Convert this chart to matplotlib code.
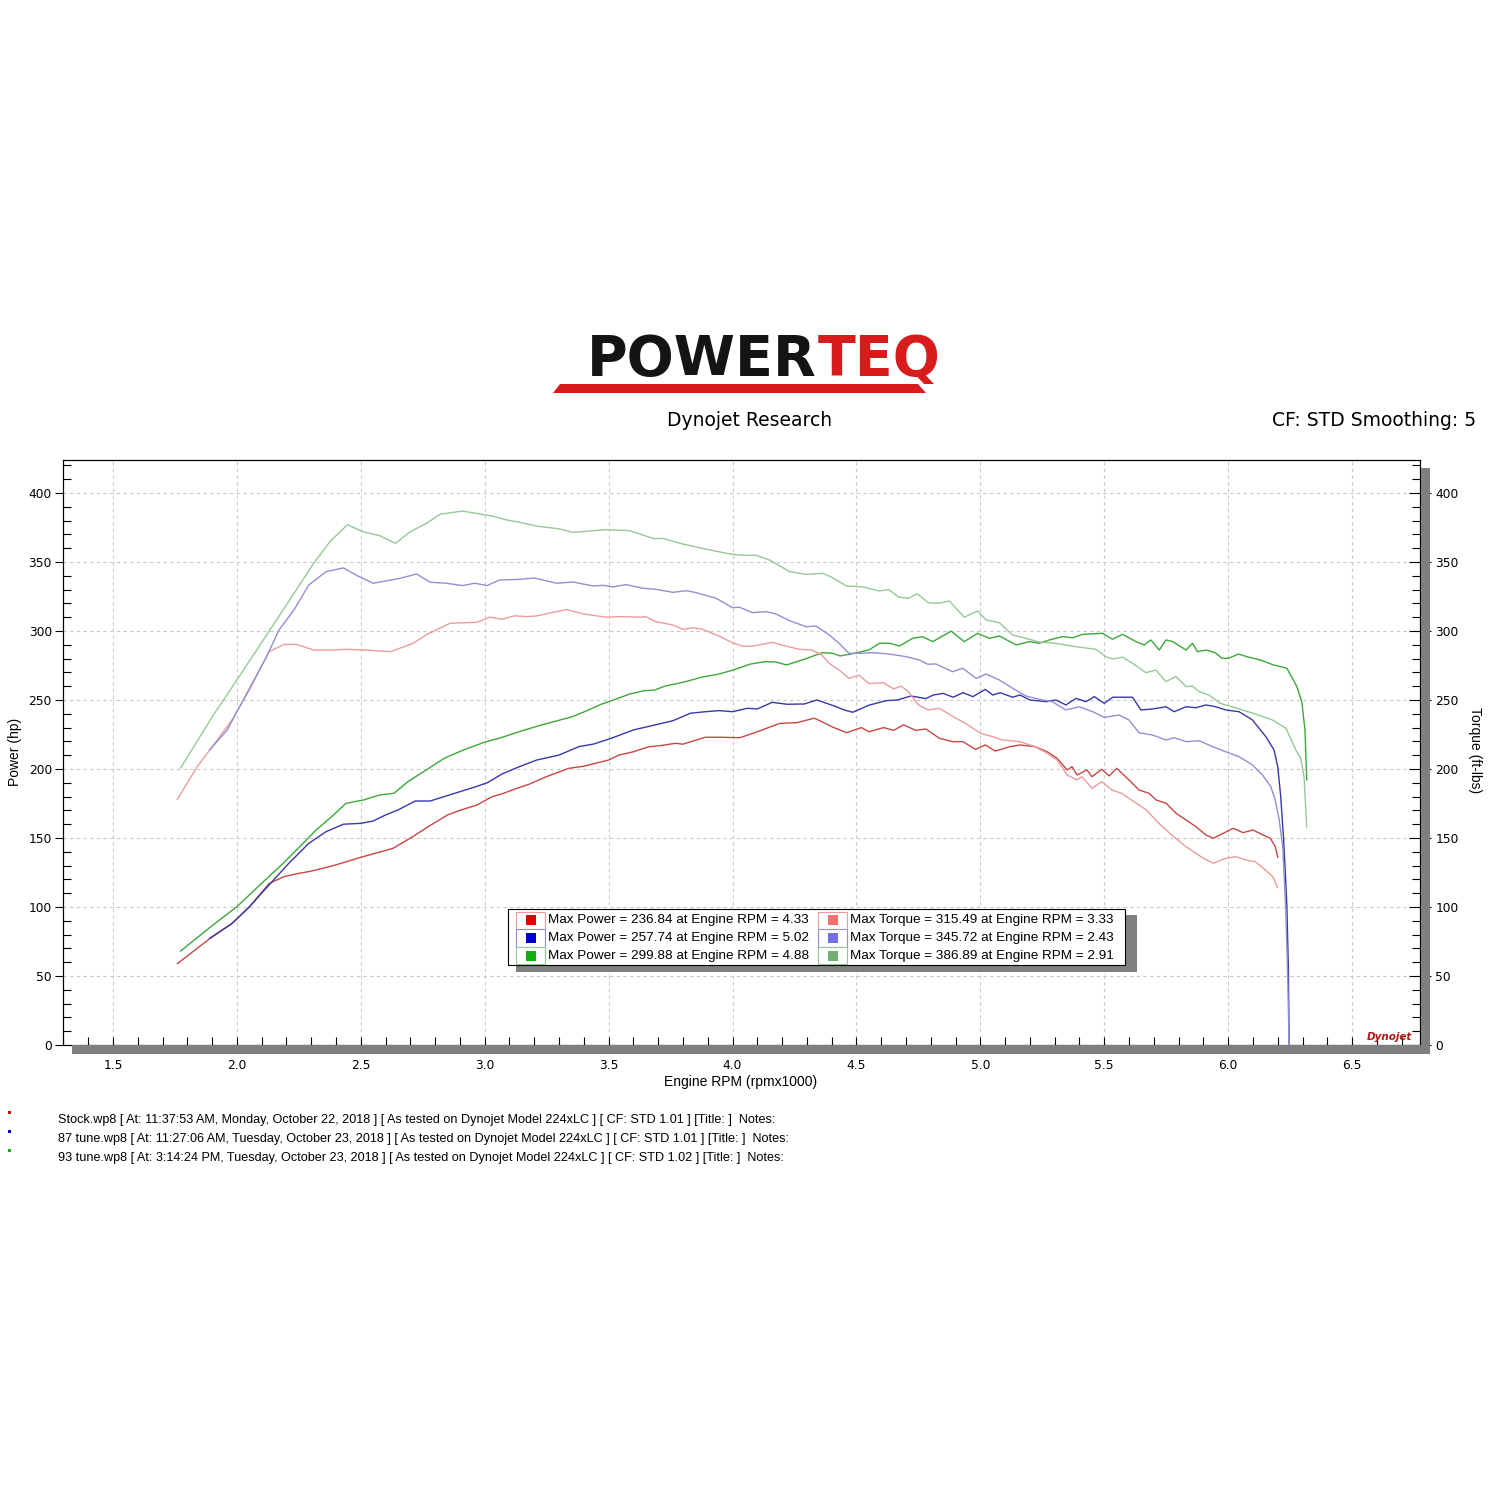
import matplotlib
matplotlib.use("Agg")
import matplotlib.pyplot as plt
from matplotlib import font_manager
from matplotlib.patches import Rectangle, Polygon
from matplotlib.ticker import MultipleLocator, FormatStrFormatter

names = {f.name for f in font_manager.fontManager.ttflist}
narrow = 'Liberation Sans' if 'Liberation Sans' in names else 'DejaVu Sans'
plt.rcParams['font.family'] = ['DejaVu Sans']

# ---- data (rpm x1000, hp / ft-lbs) ----
stock_hp_rpm = [1.76, 1.89, 1.98, 2.05, 2.13, 2.19, 2.24, 2.30, 2.39, 2.50, 2.56, 2.63, 2.71, 2.77,
                2.85, 2.90, 2.97, 3.03, 3.07, 3.13, 3.18, 3.25, 3.34, 3.40, 3.50, 3.54, 3.60, 3.66,
                3.71, 3.77, 3.80, 3.89, 3.95, 4.03, 4.09, 4.19, 4.26, 4.33, 4.36, 4.40, 4.46, 4.52,
                4.55, 4.61, 4.65, 4.69, 4.74, 4.78, 4.835, 4.89, 4.93, 4.98, 5.02, 5.06, 5.12, 5.16,
                5.22, 5.27, 5.31, 5.35, 5.37, 5.39, 5.43, 5.45, 5.49, 5.52, 5.55, 5.60, 5.64, 5.68,
                5.71, 5.75, 5.79, 5.83, 5.87, 5.91, 5.94, 5.98, 6.02, 6.06, 6.10, 6.14, 6.17, 6.19, 6.20]
stock_hp = [59, 77, 88, 100, 117, 122, 124, 126, 130, 136, 139, 142.5, 151, 158,
            166.7, 170, 174, 180, 182, 186, 189, 194.5, 200.5, 202, 206.5, 210, 212.5, 216,
            217, 218.6, 218, 223, 223, 222.7, 226.3, 233, 233.6, 236.8, 234.3, 230.7, 226.3, 230,
            227, 230, 228, 232, 228, 229, 222.2, 219.8, 219.8, 214.2, 217.4, 213, 216.2, 217.4,
            216.2, 212.5, 207.7, 199.3, 201.7, 195.7, 199.3, 194.4, 199.8, 195, 200.5, 192, 184.8, 182.4,
            177.5, 175.1, 167.9, 163, 158.2, 152.2, 149.8, 153.4, 157, 153.9, 155.8, 152.2, 149.8, 143.7, 136]

stock_tq_rpm = [1.76, 1.84, 1.90, 1.98, 2.05, 2.13, 2.19, 2.24, 2.31, 2.39, 2.44, 2.52, 2.62, 2.71,
                2.77, 2.86, 2.97, 3.02, 3.07, 3.12, 3.17, 3.21, 3.27, 3.33, 3.40, 3.49, 3.54, 3.63,
                3.65, 3.69, 3.76, 3.80, 3.84, 3.88, 3.95, 4.00, 4.04, 4.08, 4.16, 4.20, 4.27, 4.32,
                4.36, 4.39, 4.43, 4.47, 4.51, 4.55, 4.61, 4.65, 4.68, 4.71, 4.75, 4.79, 4.835, 4.89,
                4.94, 5.00, 5.05, 5.09, 5.16, 5.22, 5.27, 5.31, 5.35, 5.39, 5.41, 5.45, 5.49, 5.53,
                5.57, 5.61, 5.67, 5.72, 5.78, 5.83, 5.90, 5.94, 5.99, 6.03, 6.07, 6.11, 6.15, 6.18, 6.20]
stock_tq = [178, 201.7, 216, 235.5, 257.2, 285, 290.3, 290.3, 286.2, 286.2, 286.7, 286.2, 285, 291,
            297.8, 305.6, 306.3, 310, 308.5, 311, 310.4, 310.9, 313.3, 315.5, 312.3, 310, 310.4, 310,
            310.4, 306.8, 304.3, 301.2, 302.4, 301.2, 295.9, 291.5, 289, 289, 291.8, 289.8, 286.7, 286.2,
            282.6, 276.6, 271.7, 265.7, 268, 262, 262.5, 258, 260, 256, 246.4, 242.8, 244, 237.9,
            233.1, 225.9, 223.4, 221, 219.8, 216.2, 211.4, 206.5, 195.7, 192, 194.4, 186, 190.8, 184.8,
            182.4, 177.5, 170.3, 160.6, 151, 143.7, 135.3, 131.7, 135.3, 136.5, 134.1, 132.8, 126.8, 122, 114]

t87_hp_rpm = [1.89, 1.98, 2.05, 2.13, 2.21, 2.29, 2.36, 2.43, 2.50, 2.55, 2.60, 2.65, 2.72, 2.78,
              2.865, 2.965, 3.01, 3.07, 3.14, 3.21, 3.30, 3.38, 3.44, 3.51, 3.60, 3.67, 3.76, 3.83,
              3.89, 3.945, 4.00, 4.06, 4.10, 4.16, 4.22, 4.29, 4.34, 4.41, 4.45, 4.485, 4.55, 4.62,
              4.665, 4.72, 4.78, 4.81, 4.85, 4.89, 4.93, 4.97, 5.02, 5.05, 5.08, 5.13, 5.16, 5.20,
              5.265, 5.305, 5.345, 5.386, 5.426, 5.46, 5.50, 5.534, 5.614, 5.648, 5.695, 5.749, 5.782,
              5.83, 5.87, 5.91, 5.95, 5.99, 6.044, 6.098, 6.152, 6.185, 6.20, 6.212, 6.223, 6.232,
              6.237, 6.243, 6.246]
t87_hp = [77.3, 88, 100, 116, 131.7, 146.1, 154.6, 160, 160.6, 162.3, 166.7, 170.3, 176.8, 176.8,
          181.6, 187.2, 190, 196.4, 201.7, 206.5, 210.1, 216.2, 218.1, 222.2, 228.3, 231.2, 235, 240.4,
          241.5, 242.3, 241.5, 244, 243.5, 248.3, 246.9, 247.1, 250, 245.7, 242.8, 241.1, 246.2, 249.5,
          250, 252.9, 251, 253.6, 254.8, 252, 255.3, 252.4, 257.7, 253.6, 255.3, 252, 253.6, 250,
          248.8, 250, 246.4, 251.2, 248.8, 252.4, 247.6, 252, 252, 242.8, 243.5, 245.1, 241.5,
          245.1, 244.4, 246.4, 245.1, 242.8, 241.5, 235.5, 223.4, 213.8, 201.7, 180, 151, 120,
          100, 54, 0]

t87_tq_rpm = [1.89, 1.96, 2.04, 2.12, 2.17, 2.23, 2.29, 2.36, 2.43, 2.48, 2.55, 2.66, 2.725, 2.78,
              2.845, 2.91, 2.96, 3.01, 3.06, 3.14, 3.20, 3.29, 3.356, 3.437, 3.477, 3.517, 3.57, 3.638,
              3.69, 3.76, 3.813, 3.853, 3.934, 4.00, 4.028, 4.08, 4.136, 4.176, 4.23, 4.297, 4.337, 4.39,
              4.43, 4.47, 4.51, 4.566, 4.633, 4.70, 4.754, 4.787, 4.82, 4.888, 4.929, 4.983, 5.023, 5.077,
              5.13, 5.184, 5.238, 5.29, 5.345, 5.40, 5.453, 5.50, 5.56, 5.60, 5.64, 5.695, 5.749, 5.782,
              5.83, 5.883, 5.937, 5.99, 6.044, 6.098, 6.138, 6.172, 6.19, 6.206, 6.22, 6.232, 6.24, 6.246]
t87_tq = [213.8, 228, 254.8, 281.4, 300.7, 315.2, 333.3, 343, 345.7, 340.6, 334.6, 338.2, 341.3, 335.3,
          334.6, 332.9, 334.6, 332.9, 337, 337.4, 338.4, 334.6, 335.5, 332.6, 333.1, 331.9, 333.6, 331,
          330.2, 328, 329.2, 327.8, 323.7, 316.9, 317.2, 313.3, 314, 312.3, 307.5, 303.1, 303.6, 297.1,
          291.1, 283.8, 283.8, 284.3, 283.3, 281.4, 279, 275.9, 276.1, 270.5, 273, 265.7, 268.8, 264.5,
          258.5, 252.9, 250.5, 248.8, 242.8, 245.1, 241.5, 237.4, 239.1, 235.5, 226.3, 224.6, 221, 222.7,
          219.8, 220.5, 216.2, 212.5, 208.9, 202.9, 195.7, 187.2, 177.5, 163, 143.7, 100, 50, 0]

t93_hp_rpm = [1.773, 1.904, 2.00, 2.093, 2.187, 2.267, 2.32, 2.39, 2.44, 2.51, 2.577, 2.634, 2.69, 2.764,
              2.836, 2.908, 2.994, 3.066, 3.153, 3.225, 3.354, 3.412, 3.47, 3.527, 3.585, 3.642, 3.685,
              3.728, 3.80, 3.873, 3.945, 4.002, 4.074, 4.132, 4.175, 4.218, 4.29, 4.362, 4.405, 4.434,
              4.49, 4.55, 4.593, 4.636, 4.673, 4.727, 4.767, 4.808, 4.882, 4.935, 4.989, 5.036, 5.077,
              5.144, 5.198, 5.238, 5.278, 5.332, 5.372, 5.413, 5.493, 5.533, 5.574, 5.628, 5.661, 5.688,
              5.722, 5.749, 5.776, 5.83, 5.856, 5.876, 5.91, 5.948, 5.975, 6.001, 6.042, 6.075, 6.129,
              6.183, 6.237, 6.277, 6.297, 6.31, 6.317]
t93_hp = [68.1, 87, 100.2, 116, 131.7, 146.1, 155.8, 166.7, 175.1, 177.5, 181.2, 182.4, 190.8, 199.3,
          207.7, 213.3, 219.1, 222.7, 227.8, 231.7, 237.9, 242.2, 246.9, 250.5, 254.3, 256.7, 257.2,
          260.1, 262.8, 266.4, 268.8, 271.7, 276.1, 277.8, 277.5, 275.4, 279.5, 284.3, 283.8, 281.9,
          283.8, 286.2, 291.1, 291.1, 289.1, 294.7, 295.9, 292.3, 299.9, 292.3, 298.3, 294.7, 296.4,
          289.9, 292.3, 291.1, 293.5, 295.9, 295.1, 297.6, 298.3, 294, 297.6, 292.3, 289.9, 293.5,
          286.2, 293.5, 292.3, 286.2, 291.1, 285, 286.2, 284.3, 280.2, 280.2, 283.3, 281.4, 279,
          275.4, 273, 259.7, 248.8, 228, 192]

t93_tq_rpm = [1.773, 1.90, 2.00, 2.16, 2.31, 2.375, 2.446, 2.508, 2.577, 2.64, 2.70, 2.765, 2.82, 2.91,
              3.03, 3.09, 3.14, 3.21, 3.30, 3.356, 3.49, 3.585, 3.68, 3.72, 3.80, 3.89, 3.99, 4.03,
              4.095, 4.15, 4.23, 4.30, 4.364, 4.40, 4.46, 4.525, 4.59, 4.63, 4.67, 4.71, 4.745, 4.79,
              4.83, 4.875, 4.935, 4.989, 5.023, 5.077, 5.13, 5.184, 5.238, 5.305, 5.372, 5.466, 5.507,
              5.533, 5.574, 5.614, 5.668, 5.708, 5.749, 5.789, 5.83, 5.856, 5.883, 5.923, 5.968, 6.035,
              6.10, 6.179, 6.233, 6.273, 6.293, 6.306, 6.317]
t93_tq = [200.7, 237.7, 264.5, 308, 349, 364.7, 377, 372, 369, 363.5, 372, 378, 384.6, 386.9,
          383.3, 380.4, 378.8, 376, 374, 371.5, 373.4, 372.7, 367, 367, 363, 359.4, 355.8, 355,
          354.8, 351.4, 343, 341, 341.8, 339, 332.6, 332, 329, 330, 324.5, 323.7, 327, 320.5,
          320, 321.7, 310, 314.5, 308, 306, 297, 294.7, 292, 291, 289, 286.7, 281.4,
          279.7, 281, 276.6, 269.8, 271.7, 263.3, 267, 259.7, 260, 256, 253.6, 247.6, 244,
          240.4, 235.5, 229.5, 213.8, 207.7, 194.4, 158]

max_power = [236.84, 257.74, 299.88]
max_power_rpm = [4.33, 5.02, 4.88]
max_torque = [315.49, 345.72, 386.89]
max_torque_rpm = [3.33, 2.43, 2.91]

runs = ["Stock.wp8", "87 tune.wp8", "93 tune.wp8"]
run_times = ["11:37:53 AM, Monday, October 22, 2018",
             "11:27:06 AM, Tuesday, October 23, 2018",
             "3:14:24 PM, Tuesday, October 23, 2018"]
run_cf = ["1.01", "1.01", "1.02"]

hp_colors = ['#c84646', '#3838a8', '#3ca83c']
tq_colors = ['#eb9c9c', '#9090d4', '#96c896']
swatch_hp = ['#e00000', '#0000d0', '#10b010']
swatch_tq = ['#f07070', '#7070e0', '#70b070']

W = 1500.0
def fx(x):
    return x / W
def fy(y):
    return 1 - y / W

fig = plt.figure(figsize=(15, 15), dpi=100)
fig.patch.set_facecolor('white')

ax = fig.add_axes([fx(63), fy(1045), (1420 - 63) / W, (1045 - 460) / W])
tw = ax.twinx()

ax.plot(stock_hp_rpm, stock_hp, color=hp_colors[0], lw=1.0, zorder=3)
ax.plot(t87_hp_rpm, t87_hp, color=hp_colors[1], lw=1.0, zorder=3)
ax.plot(t93_hp_rpm, t93_hp, color=hp_colors[2], lw=1.0, zorder=3)
tw.plot(stock_tq_rpm, stock_tq, color=tq_colors[0], lw=1.0)
tw.plot(t87_tq_rpm, t87_tq, color=tq_colors[1], lw=1.0)
tw.plot(t93_tq_rpm, t93_tq, color=tq_colors[2], lw=1.0)

for a in (ax, tw):
    a.set_xlim(1.2984, 6.774)
    a.set_ylim(0, 423.9)
    for s in a.spines.values():
        s.set_linewidth(0.8)
        s.set_color('black')

ax.xaxis.set_major_locator(MultipleLocator(0.5))
ax.xaxis.set_minor_locator(MultipleLocator(0.1))
ax.xaxis.set_major_formatter(FormatStrFormatter('%.1f'))
ax.yaxis.set_major_locator(MultipleLocator(50))
ax.yaxis.set_minor_locator(MultipleLocator(10))
tw.yaxis.set_major_locator(MultipleLocator(50))
tw.yaxis.set_minor_locator(MultipleLocator(10))

ax.tick_params(axis='x', which='both', direction='in', length=6, width=0.8, pad=10, labelsize=8.8, top=False)
ax.tick_params(axis='y', which='major', direction='out', length=6, width=0.8, pad=2, labelsize=8.8, right=False)
ax.tick_params(axis='y', which='minor', direction='in', length=6, width=0.8, right=False)
tw.tick_params(axis='y', which='major', direction='inout', length=16, width=0.8, pad=3, labelsize=8.8)
tw.tick_params(axis='y', which='minor', direction='in', length=6, width=0.8)

ax.grid(True, which='major', color='#c8c8c8', linestyle=(0, (3, 3)), linewidth=0.8)
ax.set_axisbelow(True)

# frame shadows
fig.patches.append(Rectangle((fx(72), fy(1054)), (1430 - 72) / W, 9 / W, transform=fig.transFigure,
                             facecolor='#7f7f7f', edgecolor='none'))
fig.patches.append(Rectangle((fx(1420.5), fy(1054)), 9.5 / W, (1054 - 468) / W, transform=fig.transFigure,
                             facecolor='#7f7f7f', edgecolor='none'))

# axis titles
fig.text(fx(741), fy(1082), "Engine RPM (rpmx1000)", ha='center', va='center', fontsize=10, family=narrow)
fig.text(fx(15), fy(752), "Power (hp)", ha='center', va='center', rotation=90, fontsize=10, family=narrow)
fig.text(fx(1475), fy(750), "Torque (ft-lbs)", ha='center', va='center', rotation=270, fontsize=10, family=narrow)

# header
fig.text(fx(750), fy(420), "Dynojet Research", ha='center', va='center', fontsize=13.5)
fig.text(fx(1476), fy(420), "CF: STD Smoothing: 5", ha='right', va='center', fontsize=13.5)
fig.text(fx(817), fy(360), "POWER", ha='right', va='center', fontsize=40, fontweight='bold', color='#141414')
fig.text(fx(818), fy(360), "TEQ", ha='left', va='center', fontsize=40, fontweight='bold', color='#d81c1c')
fig.patches.append(Polygon([[fx(553), fy(393)], [fx(560), fy(384)], [fx(918), fy(384)], [fx(926), fy(393)]],
                           closed=True, transform=fig.transFigure, facecolor='#d81c1c', edgecolor='none'))

# small dynojet mark
fig.text(fx(1412), fy(1037), "Dynojet", ha='right', va='center', fontsize=7.5, fontweight='bold',
         style='italic', color='#b01818')

# legend box
fig.patches.append(Rectangle((fx(516), fy(972)), 621 / W, 57 / W, transform=fig.transFigure,
                             facecolor='#808080', edgecolor='none'))
fig.patches.append(Rectangle((fx(508), fy(965)), 617 / W, 56 / W, transform=fig.transFigure,
                             facecolor='white', edgecolor='black', linewidth=0.8))
row_top = [911.5, 929.2, 946.8]
for i in range(3):
    yc = row_top[i] + 8.8
    for x0, col, edge in ((515.5, swatch_hp[i], tq_colors[i]), (817.5, swatch_tq[i], tq_colors[i])):
        fig.patches.append(Rectangle((fx(x0), fy(row_top[i] + 17.6)), 29.5 / W, 17.6 / W,
                                     transform=fig.transFigure, facecolor='white', edgecolor=edge,
                                     linewidth=0.8))
        fig.patches.append(Rectangle((fx(x0 + 10), fy(yc + 5)), 10 / W, 10 / W,
                                     transform=fig.transFigure, facecolor=col, edgecolor='none'))
    fig.text(fx(548), fy(yc), "Max Power = %.2f at Engine RPM = %.2f" % (max_power[i], max_power_rpm[i]),
             ha='left', va='center', fontsize=9.7, family=narrow)
    fig.text(fx(850), fy(yc), "Max Torque = %.2f at Engine RPM = %.2f" % (max_torque[i], max_torque_rpm[i]),
             ha='left', va='center', fontsize=9.7, family=narrow)

# run notes
for i in range(3):
    yc = 1120 + 19 * i
    fig.patches.append(Rectangle((fx(7.5), fy(yc - 6)), 3 / W, 3 / W, transform=fig.transFigure,
                                 facecolor=swatch_hp[i], edgecolor='none'))
    line = "%s [ At: %s ] [ As tested on Dynojet Model 224xLC ] [ CF: STD %s ] [Title: ]  Notes:" % (
        runs[i], run_times[i], run_cf[i])
    fig.text(fx(58), fy(yc), line, ha='left', va='center', fontsize=9.1, family=narrow)

fig.savefig("out.png", dpi=100, facecolor='white')
